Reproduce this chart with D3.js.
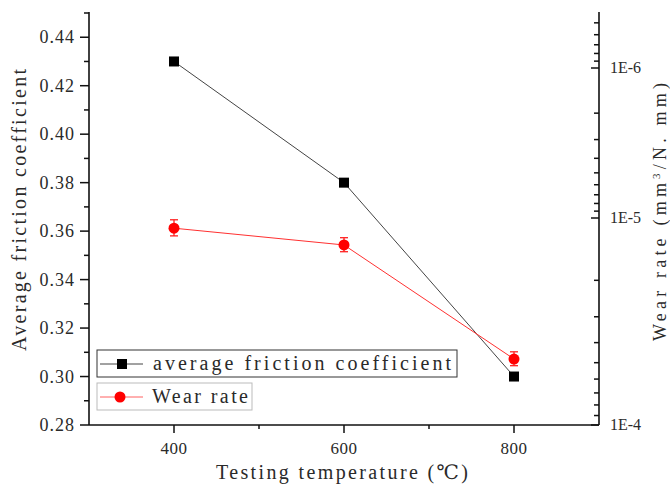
<!DOCTYPE html>
<html>
<head>
<meta charset="utf-8">
<script src="https://cdn.jsdelivr.net/npm/d3@7/dist/d3.min.js"></script>
<style>
  body { margin: 0; background: #fff; }
</style>
</head>
<body>
<svg id="chart" width="670" height="484"></svg>
<script>
// data
var temps = [400, 600, 800];
var friction = [0.43, 0.38, 0.30];
var wearRate = [1.12e-5, 1.35e-5, 4.8e-5];
var wearErr = [1.0e-6, 1.05e-6, 3.7e-6];

var xTicks = [400, 600, 800];
var xMinor = [500, 700];
var leftTicks = [0.28, 0.30, 0.32, 0.34, 0.36, 0.38, 0.40, 0.42, 0.44];
var leftMinor = [0.29, 0.31, 0.33, 0.35, 0.37, 0.39, 0.41, 0.43, 0.45];
var rightTicks = [1e-6, 1e-5, 1e-4];
var rightLabels = ["1E-6", "1E-5", "1E-4"];

var font = "'Liberation Serif', 'DejaVu Serif', 'Times New Roman', serif";

var svg = d3.select("#chart")
    .attr("font-family", font)
    .style("fill", "#2a2a2a");

var x = d3.scaleLinear().domain([300, 900]).range([89, 599]);
var yL = d3.scaleLinear().domain([0.28, 0.45]).range([425, 13]);
// the right axis in the original is a reversed log scale with uneven decades
var yR = d3.scaleLog().domain([4.3e-7, 1e-6, 1e-5, 1e-4]).range([13, 68, 218, 425]);

var axisColor = "#111";
var txt = "#2a2a2a";

// x axis
var gx = svg.append("g");
gx.append("line").attr("x1", 89).attr("x2", 599).attr("y1", 425).attr("y2", 425)
    .attr("stroke", axisColor).attr("stroke-width", 1.6);
gx.selectAll(".xmaj").data(xTicks).enter().append("line")
    .attr("x1", function(d) { return x(d); }).attr("x2", function(d) { return x(d); })
    .attr("y1", 425).attr("y2", 433).attr("stroke", axisColor).attr("stroke-width", 1.5);
gx.selectAll(".xmin").data(xMinor).enter().append("line")
    .attr("x1", function(d) { return x(d); }).attr("x2", function(d) { return x(d); })
    .attr("y1", 425).attr("y2", 429).attr("stroke", axisColor).attr("stroke-width", 1.5);
gx.selectAll(".xlab").data(xTicks).enter().append("text")
    .attr("x", function(d) { return x(d); }).attr("y", 454)
    .attr("text-anchor", "middle").attr("font-size", 17).attr("fill", txt)
    .attr("letter-spacing", 0.5)
    .text(function(d) { return d; });

// left axis
var gl = svg.append("g");
gl.append("line").attr("x1", 89).attr("x2", 89).attr("y1", 12).attr("y2", 425)
    .attr("stroke", axisColor).attr("stroke-width", 1.6);
gl.selectAll(".lmaj").data(leftTicks).enter().append("line")
    .attr("x1", 80).attr("x2", 89)
    .attr("y1", function(d) { return yL(d); }).attr("y2", function(d) { return yL(d); })
    .attr("stroke", axisColor).attr("stroke-width", 1.5);
gl.selectAll(".lmin").data(leftMinor).enter().append("line")
    .attr("x1", 84).attr("x2", 89)
    .attr("y1", function(d) { return yL(d); }).attr("y2", function(d) { return yL(d); })
    .attr("stroke", axisColor).attr("stroke-width", 1.5);
gl.selectAll(".llab").data(leftTicks).enter().append("text")
    .attr("x", 75).attr("y", function(d) { return yL(d) + 6; })
    .attr("text-anchor", "end").attr("font-size", 18).attr("fill", txt)
    .attr("letter-spacing", 1)
    .text(function(d) { return d3.format(".2f")(d); });

// right axis, ticks pointing inward
var gr = svg.append("g");
gr.append("line").attr("x1", 599).attr("x2", 599).attr("y1", 12).attr("y2", 425)
    .attr("stroke", axisColor).attr("stroke-width", 1.6);
var rMinor = yR.ticks().filter(function(d) {
    return rightTicks.indexOf(d) < 0 && d < 1e-4;
});
gr.selectAll(".rmin").data(rMinor).enter().append("line")
    .attr("x1", 594).attr("x2", 599)
    .attr("y1", function(d) { return yR(d); }).attr("y2", function(d) { return yR(d); })
    .attr("stroke", axisColor).attr("stroke-width", 1.5);
gr.selectAll(".rmaj").data(rightTicks).enter().append("line")
    .attr("x1", 591).attr("x2", 599)
    .attr("y1", function(d) { return yR(d); }).attr("y2", function(d) { return yR(d); })
    .attr("stroke", axisColor).attr("stroke-width", 1.5);
gr.selectAll(".rlab").data(rightTicks).enter().append("text")
    .attr("x", 610).attr("y", function(d) { return yR(d) + 5; })
    .attr("font-size", 16).attr("fill", txt)
    .text(function(d, i) { return rightLabels[i]; });

// axis titles
svg.append("text")
    .attr("transform", "translate(26,210) rotate(-90)")
    .attr("text-anchor", "middle").attr("font-size", 20).attr("fill", txt)
    .attr("textLength", 282).attr("lengthAdjust", "spacing")
    .text("Average friction coefficient");
svg.append("text")
    .attr("x", 342).attr("y", 479)
    .attr("text-anchor", "middle").attr("font-size", 20).attr("fill", txt)
    .attr("textLength", 252).attr("lengthAdjust", "spacing")
    .text("Testing temperature (\u2103)");
var rt = svg.append("text")
    .attr("transform", "translate(666,212) rotate(-90)")
    .attr("text-anchor", "middle").attr("font-size", 18).attr("fill", txt)
    .attr("textLength", 258).attr("lengthAdjust", "spacing");
rt.append("tspan").text("Wear rate (mm");
rt.append("tspan").attr("dy", -6).attr("font-size", 11).text("3");
rt.append("tspan").attr("dy", 6).text("/N. mm)");

// friction series
var lineF = d3.line()
    .x(function(d, i) { return x(temps[i]); })
    .y(function(d) { return yL(d); });
svg.append("path").datum(friction).attr("d", lineF)
    .attr("fill", "none").attr("stroke", "#444").attr("stroke-width", 1);

// wear rate series
var lineW = d3.line()
    .x(function(d, i) { return x(temps[i]); })
    .y(function(d) { return yR(d); });
svg.append("path").datum(wearRate).attr("d", lineW)
    .attr("fill", "none").attr("stroke", "#ff3030").attr("stroke-width", 1);

// error bars
var eb = svg.append("g").attr("stroke", "#ff2020").attr("stroke-width", 1.3);
wearRate.forEach(function(v, i) {
    var cx = x(temps[i]);
    var y1 = yR(v - wearErr[i]), y2 = yR(v + wearErr[i]);
    eb.append("line").attr("x1", cx).attr("x2", cx).attr("y1", y1).attr("y2", y2);
    eb.append("line").attr("x1", cx - 4).attr("x2", cx + 4).attr("y1", y1).attr("y2", y1);
    eb.append("line").attr("x1", cx - 4).attr("x2", cx + 4).attr("y1", y2).attr("y2", y2);
});

svg.selectAll(".sq").data(friction).enter().append("rect")
    .attr("x", function(d, i) { return x(temps[i]) - 5; })
    .attr("y", function(d) { return yL(d) - 5; })
    .attr("width", 10).attr("height", 10).attr("fill", "#000");

svg.selectAll(".dot").data(wearRate).enter().append("circle")
    .attr("cx", function(d, i) { return x(temps[i]); })
    .attr("cy", function(d) { return yR(d); })
    .attr("r", 5.5).attr("fill", "#ff0000");

// legend
var lg1 = svg.append("g");
lg1.append("rect").attr("x", 97).attr("y", 350).attr("width", 360).attr("height", 27)
    .attr("fill", "#fff").attr("stroke", "#333").attr("stroke-width", 1);
lg1.append("line").attr("x1", 100).attr("x2", 143).attr("y1", 364).attr("y2", 364)
    .attr("stroke", "#444").attr("stroke-width", 1);
lg1.append("rect").attr("x", 117).attr("y", 359).attr("width", 10).attr("height", 10).attr("fill", "#000");
lg1.append("text").attr("x", 153).attr("y", 370).attr("font-size", 20).attr("fill", txt)
    .attr("textLength", 298).attr("lengthAdjust", "spacing")
    .text("average friction coefficient");

var lg2 = svg.append("g");
lg2.append("rect").attr("x", 97).attr("y", 383).attr("width", 155).attr("height", 27)
    .attr("fill", "#fff").attr("stroke", "#bbb").attr("stroke-width", 1);
lg2.append("line").attr("x1", 100).attr("x2", 143).attr("y1", 397).attr("y2", 397)
    .attr("stroke", "#ff6060").attr("stroke-width", 1);
lg2.append("circle").attr("cx", 120).attr("cy", 397).attr("r", 5.5).attr("fill", "#ff0000");
lg2.append("text").attr("x", 152).attr("y", 403).attr("font-size", 20).attr("fill", txt)
    .attr("textLength", 96).attr("lengthAdjust", "spacing")
    .text("Wear rate");
</script>
</body>
</html>
